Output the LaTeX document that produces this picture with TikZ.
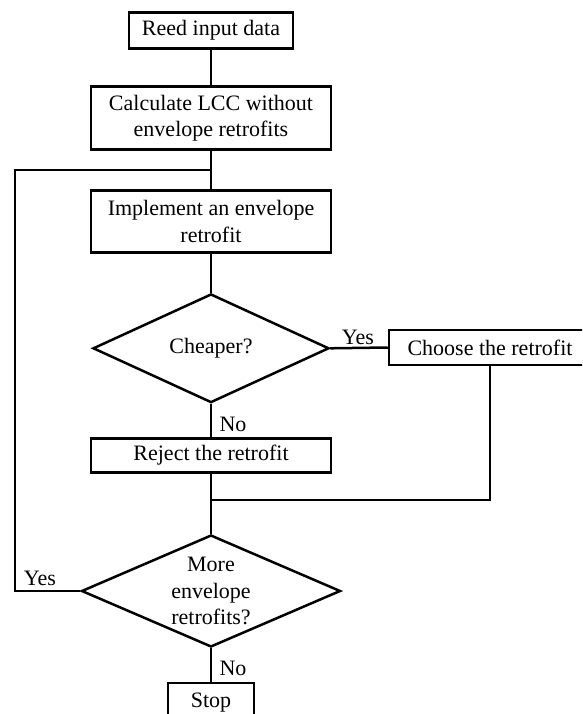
\documentclass[tikz,border=0pt]{standalone}
\usepackage{fontspec}
\setmainfont{Liberation Serif}
\usetikzlibrary{shapes.geometric}
\begin{document}
\begin{tikzpicture}[x=1pt,y=-1pt,
  every node/.style={font=\fontsize{22}{26.5}\selectfont},
  box/.style={draw, line width=2.5pt, inner sep=0pt, align=center},
  dec/.style={draw, diamond, line width=2.5pt, inner sep=0pt, align=center},
  conn/.style={line width=2.5pt},
  lbl/.style={inner sep=0pt}]
\clip (0,0) rectangle (582,714);
\fill[white] (0,0) rectangle (582,714);
\node[box, minimum width=164pt, minimum height=36pt] (reed) at (211,30.5) {Reed input data};
\node[box, minimum width=240pt, minimum height=63pt] (calc) at (211,118.2) {Calculate LCC without\\envelope retrofits};
\node[box, minimum width=240pt, minimum height=62pt] (impl) at (211,221.7) {Implement an envelope\\retrofit};
\node[dec, minimum width=236pt, minimum height=108.7pt, shape aspect=2.17] (d1) at (211,348.3) {Cheaper?};
\node[box, minimum width=202pt, minimum height=35pt] (choose) at (490,347.5) {Choose the retrofit};
\node[box, minimum width=240pt, minimum height=34pt] (reject) at (211,455.5) {Reject the retrofit};
\node[dec, minimum width=259pt, minimum height=112pt, shape aspect=2.31] (d2) at (211,591) {More\\envelope\\retrofits?};
\node[box, minimum width=86pt, minimum height=39pt, anchor=north] (stop) at (211,681.5) {Stop};
\coordinate (loopTop) at (211,170);
\coordinate (merge) at (211,500);
\draw[conn] (reed) -- (calc);
\draw[conn] (calc) -- (impl);
\draw[conn] (impl) -- (d1);
\draw[conn] (d1) -- (reject);
\draw[conn] (reject) -- (d2);
\draw[conn] (d2) -- (stop);
\draw[conn] (d1.east) -- (choose.west);
\draw[conn] (choose.south) |- (merge);
\draw[conn] (d2.west) -- (15,591) |- (loopTop);
\node[lbl] (yes1) at (358,337) {Yes};
\node[lbl] (no1) at (233,424) {No};
\node[lbl] (yes2) at (40,578) {Yes};
\node[lbl] (no2) at (233,668) {No};
\end{tikzpicture}
\end{document}
